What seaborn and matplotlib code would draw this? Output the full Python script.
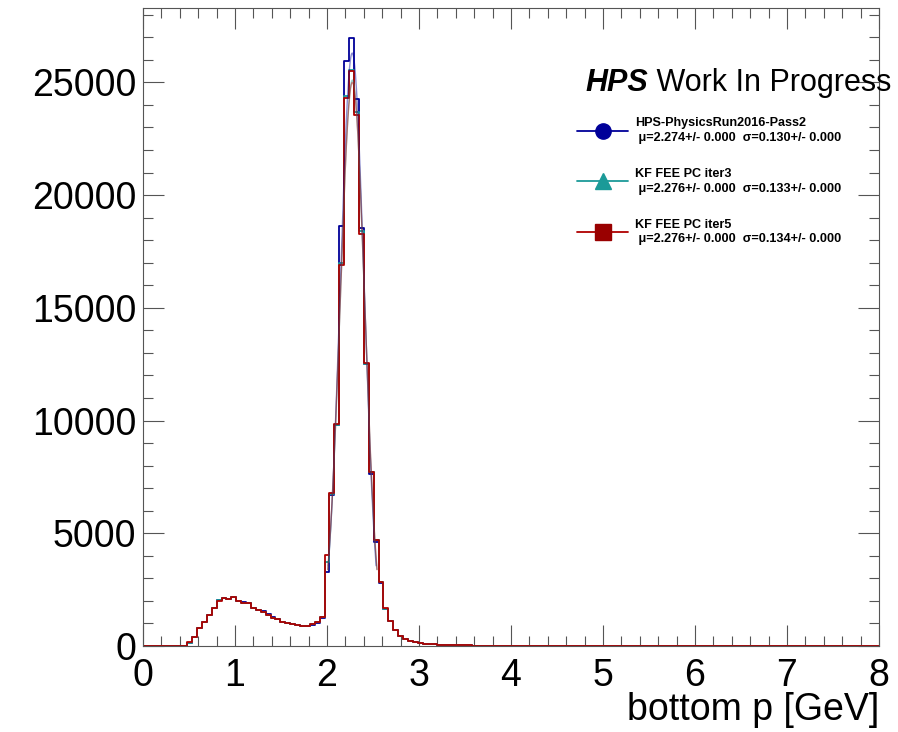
import numpy as np
import pandas as pd
import matplotlib
matplotlib.use("Agg")
import matplotlib.pyplot as plt
import seaborn as sns
from matplotlib.lines import Line2D
from matplotlib.ticker import MultipleLocator

# ---------------- data ----------------
n_bins = 150
x_range = (0.0, 8.0)

counts_pass2 = [0, 0, 0, 0, 0, 0, 0, 0, 0,
                150, 400, 800, 1060, 1380, 1690, 2040, 2150, 2080, 2170,
                2000, 1930, 1890, 1680, 1610, 1550, 1400, 1265, 1190, 1085,
                1010, 965, 925, 880, 870, 940, 1030, 1250, 3265, 6700,
                9790, 18620, 25960, 26960, 24260, 18530, 12500, 7650, 4620, 2800,
                1650, 1090, 715, 440, 305, 232, 175, 130, 102, 88,
                80, 62, 55, 47, 40, 34, 29, 24, 20, 17,
                14, 12, 10, 8, 7, 6, 5, 4, 4, 3,
                3, 2, 2, 2, 1, 1, 1, 1, 1, 1]

counts_iter3 = [0, 0, 0, 0, 0, 0, 0, 0, 0,
                155, 405, 805, 1055, 1375, 1680, 2020, 2145, 2075, 2175,
                1995, 1925, 1895, 1675, 1600, 1530, 1380, 1260, 1185, 1080,
                1008, 962, 928, 895, 885, 955, 1045, 1290, 3735, 6730,
                9790, 17000, 24380, 25560, 23700, 18400, 12520, 7700, 4680, 2830,
                1660, 1095, 720, 443, 308, 233, 176, 132, 103, 88,
                80, 62, 55, 47, 40, 34, 29, 24, 20, 17,
                14, 12, 10, 8, 7, 6, 5, 4, 4, 3,
                3, 2, 2, 2, 1, 1, 1, 1, 1, 1]

counts_iter5 = [0, 0, 0, 0, 0, 0, 0, 0, 0,
                160, 410, 810, 1050, 1370, 1670, 2000, 2140, 2070, 2180,
                1990, 1920, 1900, 1670, 1595, 1520, 1370, 1255, 1180, 1075,
                1005, 960, 930, 900, 890, 960, 1050, 1300, 4030, 6765,
                9835, 16910, 24290, 25520, 23550, 18280, 12550, 7720, 4700, 2850,
                1670, 1100, 725, 445, 310, 235, 177, 133, 103, 89,
                80, 62, 55, 47, 40, 34, 29, 24, 20, 17,
                14, 12, 10, 8, 7, 6, 5, 4, 4, 3,
                3, 2, 2, 2, 1, 1, 1, 1, 1, 1]

series_names = ["HPS-PhysicsRun2016-Pass2", "KF FEE PC iter3", "KF FEE PC iter5"]
fit_mu = [2.274, 2.276, 2.276]
fit_sigma = [0.130, 0.133, 0.134]
fit_amp = [26300, 25100, 25000]

x_ticks = [0, 1, 2, 3, 4, 5, 6, 7, 8]
y_ticks = [0, 5000, 10000, 15000, 20000, 25000]
y_max = 28300

# ---------------- style ----------------
line_colors = ["#000099", "#1b9a98", "#b00000"]
marker_colors = ["#000099", "#1b9a98", "#990000"]
markers = ["o", "^", "s"]

sns.set_theme(style="ticks")
plt.rcParams["font.family"] = ["Liberation Sans", "DejaVu Sans"]
plt.rcParams["text.color"] = "black"
plt.rcParams["axes.labelcolor"] = "black"
plt.rcParams["xtick.labelcolor"] = "black"
plt.rcParams["ytick.labelcolor"] = "black"

fig = plt.figure(figsize=(8.98, 7.32), dpi=100)
ax = fig.add_axes([143 / 898, 86 / 732, 736 / 898, 638 / 732])

edges = np.linspace(x_range[0], x_range[1], n_bins + 1)
width = edges[1] - edges[0]

all_counts = [counts_pass2, counts_iter3, counts_iter5]
for counts, col in zip(all_counts, line_colors):
    centers = edges[:len(counts)] + width / 2
    df = pd.DataFrame({"p": centers, "w": counts})
    sns.histplot(data=df, x="p", weights="w", bins=n_bins, binrange=x_range,
                 element="step", fill=False, color=col, linewidth=1.3, ax=ax)

# Gaussian fit curves (parameters from the legend)
for mu, sg, amp, col in zip(fit_mu, fit_sigma, fit_amp, line_colors):
    xs = np.linspace(mu - 2 * sg, mu + 2 * sg, 200)
    ys = amp * np.exp(-0.5 * ((xs - mu) / sg) ** 2)
    sns.lineplot(x=xs, y=ys, color=col, alpha=0.45, linewidth=1.0, ax=ax)

ax.set_xlim(*x_range)
ax.set_ylim(0, y_max)
ax.set_xticks(x_ticks)
ax.set_yticks(y_ticks)
ax.set_xticklabels([str(t) for t in x_ticks])
ax.set_yticklabels([str(t) for t in y_ticks])
ax.xaxis.set_minor_locator(MultipleLocator(0.2))
ax.yaxis.set_minor_locator(MultipleLocator(1000))
ax.tick_params(which="both", direction="in", top=True, right=True, width=0.8,
               color="#555555")
ax.tick_params(which="major", length=15, labelsize=27)
ax.tick_params(which="minor", length=7.5)
ax.tick_params(axis="x", which="major", pad=9)
ax.tick_params(axis="y", which="major", pad=5)
for s in ax.spines.values():
    s.set_linewidth(0.8)
    s.set_color("#555555")

ax.set_ylabel("")
ax.set_xlabel("bottom p [GeV]", fontsize=27, ha="right", color="black")
ax.xaxis.set_label_coords(1.0, -0.072)
ax.xaxis.label.set_va("top")

# title
t1 = ax.text(0, 0, "HPS", fontsize=22, fontweight="bold", fontstyle="italic",
             va="baseline", color="black")
t1.set_transform(matplotlib.transforms.IdentityTransform())
t1.set_position((585, 732 - 91))
ax.annotate(" Work In Progress", xy=(1, 0), xycoords=t1, fontsize=22,
            va="bottom", ha="left", color="black")

# legend
handles = [Line2D([0], [0], color=lc, marker=m, markerfacecolor=mc,
                  markeredgecolor=mc, markersize=11, linewidth=1.3)
           for lc, mc, m in zip(line_colors, marker_colors, markers)]
labels = []
for name, mu, sg in zip(series_names, fit_mu, fit_sigma):
    labels.append(f"{name}\n \u03bc={mu:.3f}+/- 0.000  \u03c3={sg:.3f}+/- 0.000")
leg = ax.legend(handles, labels, loc="upper left", bbox_to_anchor=(0.59, 0.829),
                frameon=False, prop={"size": 9.1, "weight": "bold"},
                handlelength=4.0, handletextpad=0.6, labelspacing=1.9,
                borderpad=0, borderaxespad=0)
for t in leg.get_texts():
    t.set_color("black")
    t.set_linespacing(1.3)

fig.savefig("out.png", dpi=100)
